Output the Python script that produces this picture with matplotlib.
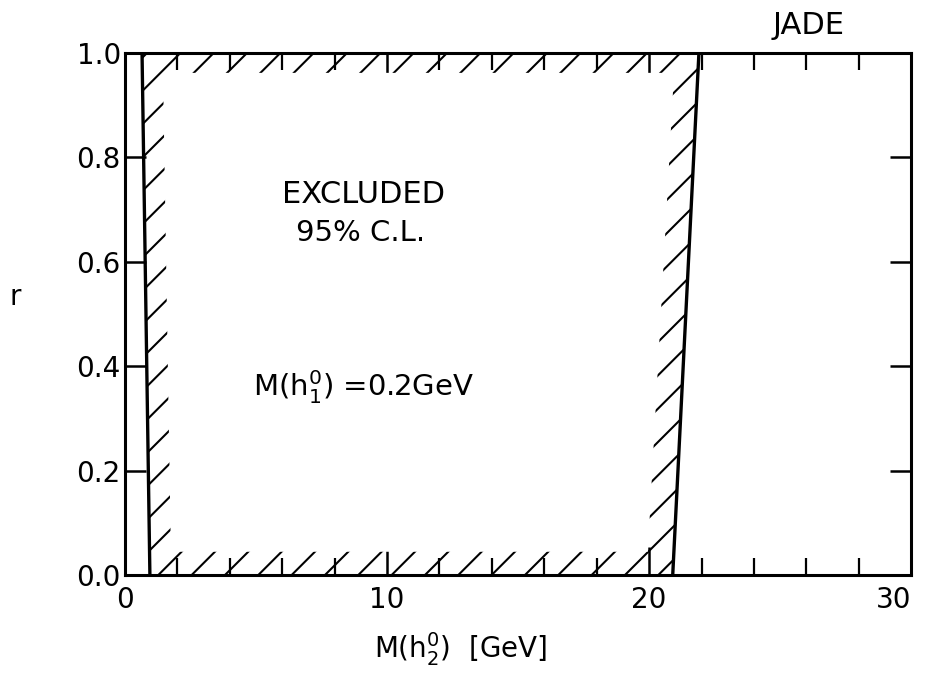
import matplotlib
matplotlib.use("Agg")
import matplotlib.pyplot as plt
from matplotlib.ticker import MultipleLocator

# boundary of the excluded region (M(h2) in GeV at r = 0 and r = 1)
r_edge = [0.0, 1.0]
left_edge = [0.95, 0.65]
right_edge = [20.9, 21.9]

# inner edge of the hatched band
band_x_left = 0.8
band_x_right = 0.95
band_y = [0.045, 0.962]

plt.rcParams['hatch.linewidth'] = 1.5
plt.rcParams['font.family'] = ['DejaVu Sans']

fig = plt.figure(figsize=(9.26, 6.76), dpi=100)
ax = fig.add_axes([0.135, 0.149, 0.849, 0.7726])

outer_x = [left_edge[0], right_edge[0], right_edge[1], left_edge[1]]
outer_y = [r_edge[0], r_edge[0], r_edge[1], r_edge[1]]
ax.fill(outer_x, outer_y, facecolor='none', edgecolor='black', hatch='/', linewidth=0, zorder=1)

inner_x = [left_edge[0] + band_x_left, right_edge[0] - band_x_right,
           right_edge[1] - band_x_right, left_edge[1] + band_x_left]
inner_y = [band_y[0], band_y[0], band_y[1], band_y[1]]
ax.fill(inner_x, inner_y, facecolor='white', edgecolor='none', zorder=2)

ax.plot(left_edge, r_edge, color='black', lw=2.4, zorder=3)
ax.plot(right_edge, r_edge, color='black', lw=2.4, zorder=3)

ax.set_xlim(0, 30)
ax.set_ylim(0, 1.0)
ax.xaxis.set_major_locator(MultipleLocator(10))
ax.xaxis.set_minor_locator(MultipleLocator(2))
ax.set_yticks([0.0, 0.2, 0.4, 0.6, 0.8, 1.0])
ax.set_yticklabels(['0.0', '0.2', '0.4', '0.6', '0.8', '1.0'])

ax.tick_params(which='both', direction='in', top=True, right=True, colors='black', labelsize=20)
ax.tick_params(axis='x', which='major', length=20, width=1.8, pad=8)
ax.tick_params(axis='x', which='minor', length=12, width=1.6)
ax.tick_params(axis='y', which='major', length=15, width=1.8, pad=3)
for s in ax.spines.values():
    s.set_linewidth(2.2)
# keep the last x label inside the picture
for lab in ax.get_xticklabels():
    if lab.get_text() == '30':
        lab.set_horizontalalignment('right')

ax.text(9.1, 0.73, 'EXCLUDED', fontsize=22, ha='center', va='center')
ax.text(9.0, 0.655, '95% C.L.', fontsize=21, ha='center', va='center')
ax.text(4.9, 0.36, r'M(h$_1^0$) =0.2GeV', fontsize=21, ha='left', va='center')

fig.text(0.873, 0.962, 'JADE', fontsize=22, ha='center', va='center')
fig.text(0.497, 0.04, r'M(h$_2^0$)  [GeV]', fontsize=20, ha='center', va='center')
fig.text(0.017, 0.56, 'r', fontsize=20, ha='center', va='center')

fig.savefig('out.png', dpi=100)
